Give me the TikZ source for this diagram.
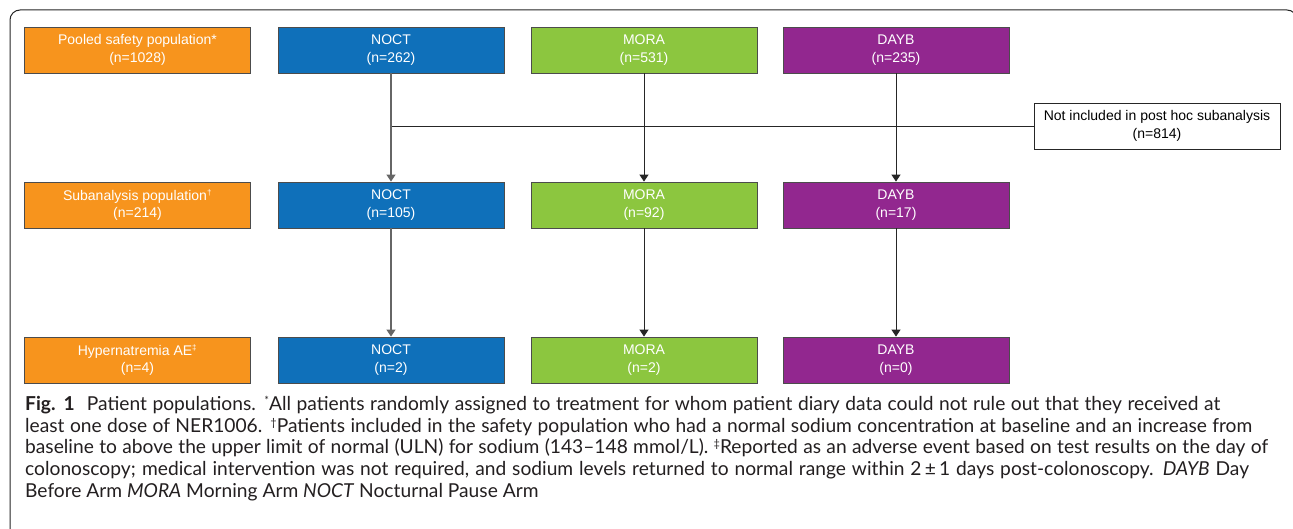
\documentclass[tikz,border=0pt]{standalone}
\usepackage{fontspec}
\setmainfont{Lato}
\newfontfamily\boxfont{Liberation Sans}
\usetikzlibrary{arrows.meta}
\definecolor{corange}{HTML}{F7941D}
\definecolor{cblue}{HTML}{0F70BA}
\definecolor{cgreen}{HTML}{8CC63F}
\definecolor{cpurple}{HTML}{92278F}
\definecolor{capcol}{HTML}{231F20}
\newcommand{\capsup}[1]{\raisebox{6pt}{\fontsize{11}{11}\selectfont #1}}
\begin{document}
\begin{tikzpicture}[x=1pt,y=-1pt,
  popbox/.style={draw=black!70, line width=0.8pt, minimum width=226pt, minimum height=46pt,
    inner sep=0pt, align=center, text=white, font=\boxfont\fontsize{14}{17.5}\selectfont},
  exbox/.style={draw=black!85, line width=0.8pt, fill=white, minimum width=246pt, minimum height=46pt,
    inner sep=0pt, align=center, text=black, font=\boxfont\fontsize{14}{17.5}\selectfont},
  grayline/.style={draw=black!60, line width=1.2pt},
  darkline/.style={draw=black!85, line width=0.9pt},
  tip/.style={-{Triangle[width=9pt,length=7pt]}},
  capline/.style={anchor=base west, inner sep=0pt, text=capcol, font=\fontsize{19.2}{21.7}\selectfont}]
\useasboundingbox (0,0) rectangle (1293,529);
\fill[white] (0,0) rectangle (1293,529);
\draw[black!85, line width=1pt, rounded corners=10pt] (10,529) -- (10,10) -- (1297,10) -- (1297,60);

% row 1
\node[popbox, fill=corange] (pool) at (137.5,50) {Pooled safety population*\\(n=1028)};
\node[popbox, fill=cblue] (noct1) at (391,50) {NOCT\\(n=262)};
\node[popbox, fill=cgreen] (mora1) at (644,50) {MORA\\(n=531)};
\node[popbox, fill=cpurple] (dayb1) at (896,50) {DAYB\\(n=235)};
% excluded
\node[exbox] (excl) at (1157,126) {Not included in post hoc subanalysis\\(n=814)};
% row 2
\node[popbox, fill=corange] (sub) at (137.5,205) {Subanalysis population\textsuperscript{\fontsize{8}{8}\selectfont†}\\(n=214)};
\node[popbox, fill=cblue] (noct2) at (391,205) {NOCT\\(n=105)};
\node[popbox, fill=cgreen] (mora2) at (644,205) {MORA\\(n=92)};
\node[popbox, fill=cpurple] (dayb2) at (896,205) {DAYB\\(n=17)};
% row 3
\node[popbox, fill=corange] (hyp) at (137.5,360) {Hypernatremia AE\textsuperscript{\fontsize{8}{8}\selectfont‡}\\(n=4)};
\node[popbox, fill=cblue] (noct3) at (391,360) {NOCT\\(n=2)};
\node[popbox, fill=cgreen] (mora3) at (644,360) {MORA\\(n=2)};
\node[popbox, fill=cpurple] (dayb3) at (896,360) {DAYB\\(n=0)};

% connectors
\coordinate (junc) at (391,126);
\draw[darkline] (junc) -- (excl.west);
\draw[grayline, tip] (noct1) -- (noct2);
\draw[darkline, tip] (mora1) -- (mora2);
\draw[darkline, tip] (dayb1) -- (dayb2);
\draw[grayline, tip] (noct2) -- (noct3);
\draw[darkline, tip] (mora2) -- (mora3);
\draw[darkline, tip] (dayb2) -- (dayb3);

% caption
\node[capline] (cap1) at (25,410) {\makebox[1195pt][s]{\textbf{Fig. 1}\hspace{12pt}Patient populations. \capsup{*}All patients randomly assigned to treatment for whom patient diary data could not rule out that they received at}};
\node[capline] (cap2) at (25,432) {\makebox[1227pt][s]{least one dose of NER1006. \capsup{†}Patients included in the safety population who had a normal sodium concentration at baseline and an increase from}};
\node[capline] (cap3) at (25,453.5) {\makebox[1243pt][s]{baseline to above the upper limit of normal (ULN) for sodium (143–148 mmol/L). \capsup{‡}Reported as an adverse event based on test results on the day of}};
\node[capline] (cap4) at (25,475) {\makebox[1224pt][s]{colonoscopy; medical intervention was not required, and sodium levels returned to normal range within 2\,±\,1 days post-colonoscopy. \textit{DAYB} Day}};
\node[capline] (cap5) at (25,497) {Before Arm \textit{MORA} Morning Arm \textit{NOCT} Nocturnal Pause Arm};
\end{tikzpicture}
\end{document}
